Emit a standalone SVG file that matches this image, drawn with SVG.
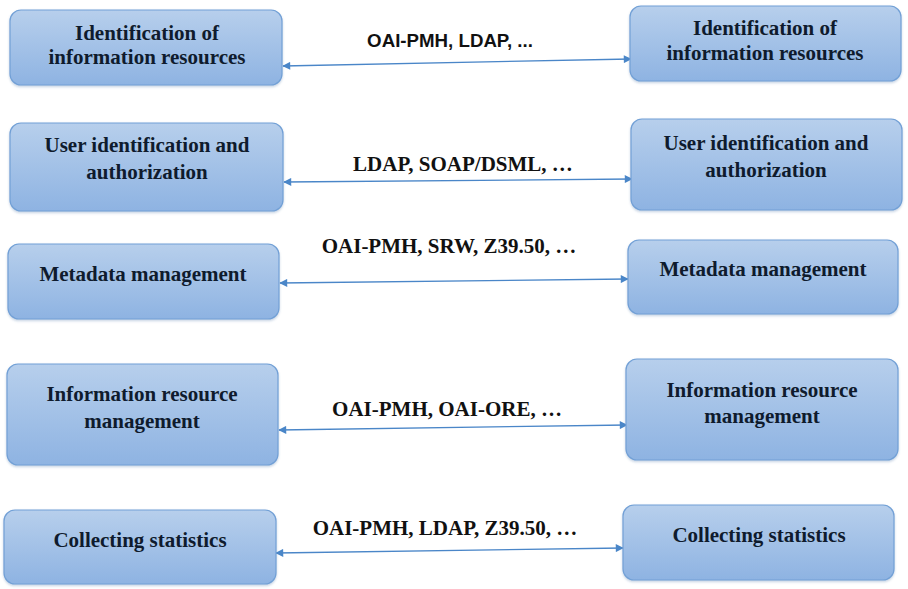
<svg xmlns="http://www.w3.org/2000/svg" width="908" height="589" viewBox="0 0 908 589">
<defs>
<linearGradient id="g" x1="0" y1="0" x2="0" y2="1">
<stop offset="0" stop-color="#b7cfec"/>
<stop offset="1" stop-color="#8eb3e2"/>
</linearGradient>
<filter id="sh" x="-5%" y="-5%" width="110%" height="120%">
<feDropShadow dx="0" dy="1.5" stdDeviation="1.2" flood-color="#5a7fae" flood-opacity="0.35"/>
</filter>
<marker id="ah" viewBox="0 0 10 10" refX="9" refY="5" markerWidth="10" markerHeight="8" markerUnits="userSpaceOnUse" orient="auto-start-reverse">
<path d="M0,0 L10,5 L0,10 z" fill="#4a86c8"/>
</marker>
<style>
.box{fill:url(#g);stroke:#72a0d6;stroke-width:1.2;filter:url(#sh)}
.t{font-family:"Liberation Serif","Times New Roman",serif;font-weight:bold;font-size:21px;fill:#0f1b2d;text-anchor:middle}
.lbl{font-family:"Liberation Serif","Times New Roman",serif;font-weight:bold;font-size:21px;fill:#111;text-anchor:middle}
.lbls{font-family:"Liberation Sans",Arial,sans-serif;font-weight:bold;font-size:18.7px;fill:#111;text-anchor:middle}
.c{stroke:#4a86c8;stroke-width:1.3;fill:none;marker-start:url(#ah);marker-end:url(#ah)}
</style>
</defs>
<rect width="908" height="589" fill="#ffffff"/>

<g id="connectors">
<line class="c" x1="283" y1="66" x2="631" y2="59"/>
<line class="c" x1="284" y1="182" x2="632" y2="179"/>
<line class="c" x1="280" y1="283" x2="628" y2="279"/>
<line class="c" x1="279" y1="430" x2="627" y2="425"/>
<line class="c" x1="276" y1="553" x2="623" y2="548"/>
</g>

<g id="labels">
<text class="lbls" x="450" y="47">OAI-PMH, LDAP, ...</text>
<text class="lbl" x="463" y="171">LDAP, SOAP/DSML, …</text>
<text class="lbl" x="449" y="253">OAI-PMH, SRW, Z39.50, …</text>
<text class="lbl" x="447" y="416">OAI-PMH, OAI-ORE, …</text>
<text class="lbl" x="445" y="535">OAI-PMH, LDAP, Z39.50, …</text>
</g>

<g id="left1"><rect class="box" x="10" y="10" width="272" height="75" rx="11"/>
<text class="t" x="147" y="40">Identification of</text><text class="t" x="147" y="64">information resources</text></g>
<g id="right1"><rect class="box" x="630" y="6" width="271" height="75" rx="11"/>
<text class="t" x="765" y="35">Identification of</text><text class="t" x="765" y="60">information resources</text></g>

<g id="left2"><rect class="box" x="10" y="123" width="273" height="88" rx="11"/>
<text class="t" x="147" y="152">User identification and</text><text class="t" x="147" y="179">authorization</text></g>
<g id="right2"><rect class="box" x="631" y="119" width="271" height="91" rx="11"/>
<text class="t" x="766" y="150">User identification and</text><text class="t" x="766" y="177">authorization</text></g>

<g id="left3"><rect class="box" x="8" y="244" width="271" height="75" rx="11"/>
<text class="t" x="143" y="281">Metadata management</text></g>
<g id="right3"><rect class="box" x="628" y="240" width="270" height="74" rx="11"/>
<text class="t" x="763" y="276">Metadata management</text></g>

<g id="left4"><rect class="box" x="7" y="364" width="271" height="101" rx="11"/>
<text class="t" x="142" y="401">Information resource</text><text class="t" x="142" y="428">management</text></g>
<g id="right4"><rect class="box" x="626" y="359" width="272" height="101" rx="11"/>
<text class="t" x="762" y="397">Information resource</text><text class="t" x="762" y="423">management</text></g>

<g id="left5"><rect class="box" x="4" y="510" width="272" height="74" rx="11"/>
<text class="t" x="140" y="547">Collecting statistics</text></g>
<g id="right5"><rect class="box" x="623" y="505" width="271" height="75" rx="11"/>
<text class="t" x="759" y="542">Collecting statistics</text></g>
</svg>
